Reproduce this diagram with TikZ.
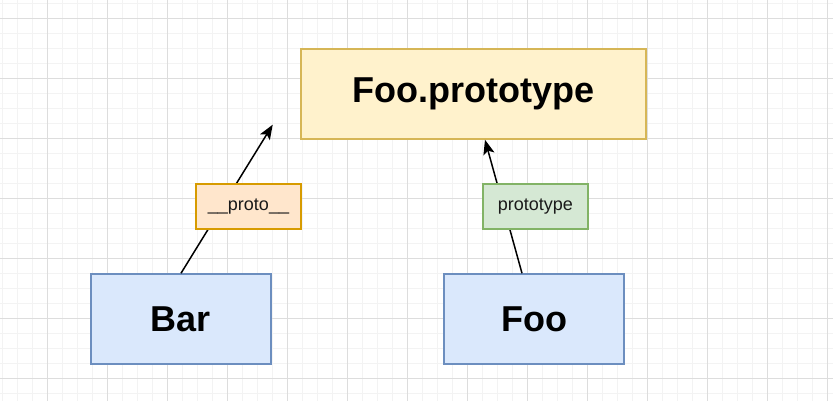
\documentclass[tikz,border=0pt]{standalone}
\usepackage{fontspec}
\setmainfont{Liberation Sans}
\usetikzlibrary{arrows.meta,calc}
\definecolor{ylwfill}{HTML}{FFF2CC}
\definecolor{ylwline}{HTML}{D6B656}
\definecolor{bluefill}{HTML}{DAE8FC}
\definecolor{blueline}{HTML}{6C8EBF}
\definecolor{orgfill}{HTML}{FFE6CC}
\definecolor{orgline}{HTML}{D79B00}
\definecolor{grnfill}{HTML}{D5E8D4}
\definecolor{grnline}{HTML}{82B366}
\definecolor{gridminor}{HTML}{F3F3F3}
\definecolor{gridmajor}{HTML}{DDDDDD}
\definecolor{txt}{HTML}{1A1A1A}
\tikzset{
  bigbox/.style={draw, line width=1.125pt, inner sep=0pt,
    font=\fontsize{27}{32}\selectfont\bfseries, text=black},
  lblbox/.style={draw, line width=1.125pt, inner sep=0pt,
    minimum width=78.75pt, minimum height=33.75pt,
    font=\fontsize{13.5}{16}\selectfont, text=txt},
  conn/.style={line width=1.125pt, black,
    -{Stealth[length=11pt, width=8.5pt, inset=2.5pt]}},
}
\begin{document}
\begin{tikzpicture}[x=0.75pt, y=-0.75pt]
\useasboundingbox (0,0) rectangle (833,401);
\fill[white] (0,0) rectangle (833,401);
% grid
\foreach \gx in {2,17,...,833} \draw[gridminor, line width=0.75pt] (\gx,0) -- (\gx,401);
\foreach \gy in {3,18,...,401} \draw[gridminor, line width=0.75pt] (0,\gy) -- (833,\gy);
\foreach \gx in {47,107,...,833} \draw[gridmajor, line width=0.75pt] (\gx,0) -- (\gx,401);
\foreach \gy in {18,78,...,401} \draw[gridmajor, line width=0.75pt] (0,\gy) -- (833,\gy);
% boxes
\node[bigbox, fill=ylwfill, draw=ylwline, minimum width=258.75pt, minimum height=67.5pt]
  (proto) at (473.5,94) {Foo.prototype};
\node[bigbox, fill=bluefill, draw=blueline, minimum width=135pt, minimum height=67.5pt]
  (bar) at (181,319) {Bar};
\node[bigbox, fill=bluefill, draw=blueline, minimum width=135pt, minimum height=67.5pt]
  (foo) at (534,319) {Foo};
% connectors
\coordinate (bartip) at (272.7,124.7);
\coordinate (barstart) at (bar.north);
\coordinate (foostart) at ($(foo.north)+(-12,0)$);
\coordinate (footip) at ($(proto.south)+(11.5,0)$);
\draw[conn] (barstart) -- (bartip);
\draw[conn] (foostart) -- (footip);
% labels
\node[lblbox, fill=orgfill, draw=orgline] (lblproto) at (248.5,206.5) {\_\_proto\_\_};
\node[lblbox, fill=grnfill, draw=grnline] (lblprototype) at (535.3,206.5) {prototype};
\end{tikzpicture}
\end{document}
